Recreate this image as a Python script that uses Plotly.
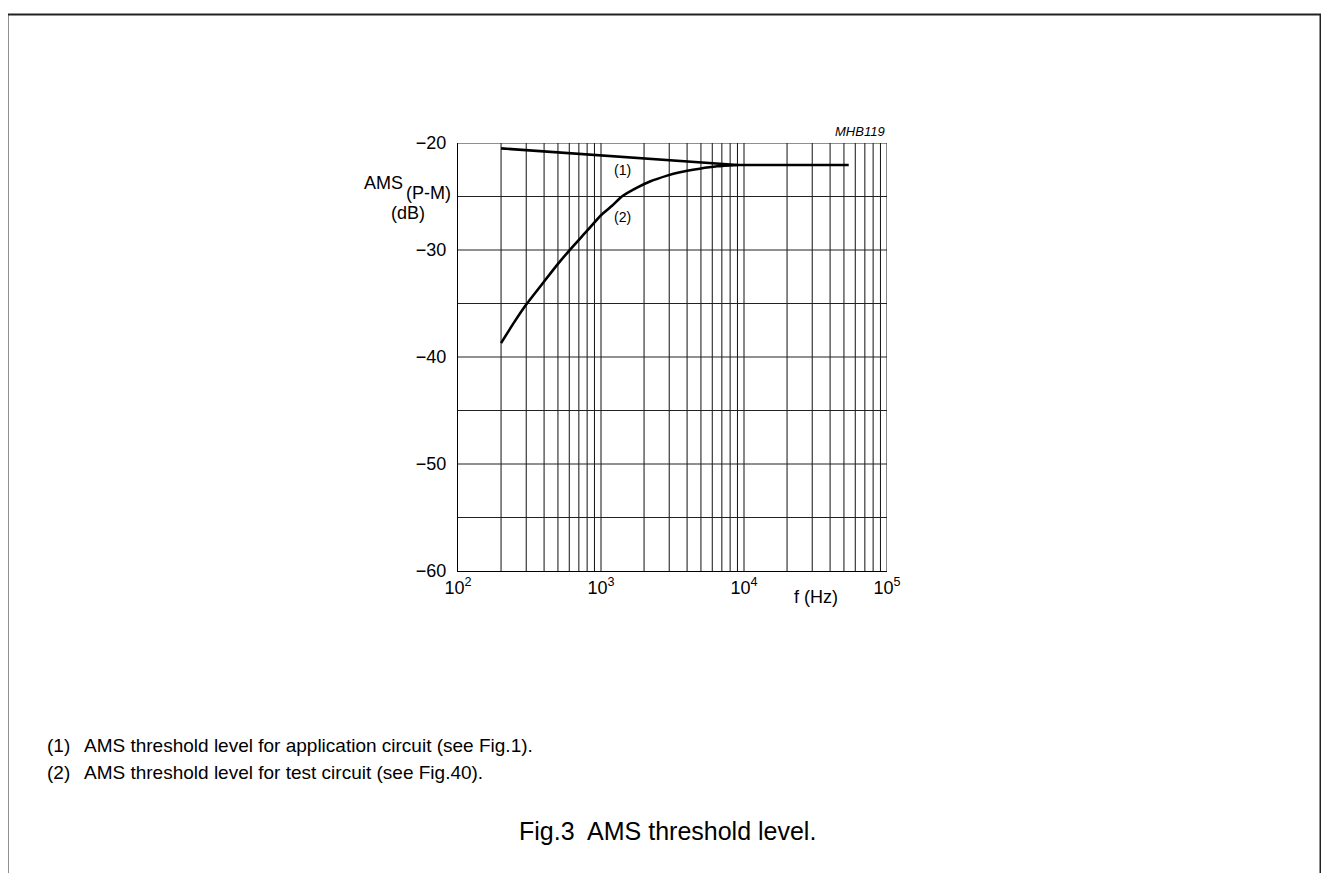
import plotly.graph_objects as go

# ---- data ----
f_app = [200, 1000, 9000, 20000, 54000]
ams_app = [-20.5, -21.15, -22.05, -22.05, -22.05]

f_test = [200, 250, 300, 400, 500, 600, 800, 1000, 1200, 1400, 1800, 2200, 2900, 3500, 4900, 6500, 9000]
ams_test = [-38.7, -36.65, -35.1, -32.95, -31.3, -30.05, -28.2, -26.75, -25.85, -25.0, -24.15, -23.6,
            -23.05, -22.75, -22.4, -22.18, -22.05]

grid_f = [200, 300, 400, 500, 600, 700, 800, 900,
          1000, 2000, 3000, 4000, 5000, 6000, 7000, 8000, 9000,
          10000, 20000, 30000, 40000, 50000, 60000, 70000, 80000, 90000, 100000]
grid_db = [-20, -25, -30, -35, -40, -45, -50, -55]

ytick_vals = [-20, -30, -40, -50, -60]
ytick_text = ["\u221220", "\u221230", "\u221240", "\u221250", "\u221260"]
xtick_vals = [100, 1000, 10000, 100000]
xtick_text = ["10<sup>2</sup>", "10<sup>3</sup>", "10<sup>4</sup>", "10<sup>5</sup>"]

FONT = "Liberation Sans, Arial, Helvetica, sans-serif"
OFF = 8                        # browser body margin
W, H = 1329 - OFF, 873 - OFF   # figure size so the page is 1329x873
L, R, T, B = 458, 887, 143, 571   # plot area in page pixels


def px(x):
    return (x - L) / (R - L)


def py(y):
    return (B - y) / (B - T)


fig = go.Figure()

# grid lines
gx, gy = [], []
for f in grid_f:
    gx += [f, f, None]
    gy += [-60, -20, None]
fig.add_trace(go.Scatter(x=gx, y=gy, mode="lines", line=dict(color="#111", width=1),
                         hoverinfo="skip", showlegend=False))
hx, hy = [], []
for d in grid_db:
    hx += [100, 100000, None]
    hy += [d, d, None]
fig.add_trace(go.Scatter(x=hx, y=hy, mode="lines", line=dict(color="#222", width=1.2),
                         hoverinfo="skip", showlegend=False))

# curves
fig.add_trace(go.Scatter(x=f_app, y=ams_app, mode="lines", name="(1)",
                         line=dict(color="black", width=2.6), showlegend=False))
fig.add_trace(go.Scatter(x=f_test, y=ams_test, mode="lines", name="(2)",
                         line=dict(color="black", width=2.6, shape="spline", smoothing=0.6),
                         showlegend=False))

fig.update_xaxes(type="log", range=[2, 5], showgrid=False, zeroline=False,
                 showline=True, linecolor="black", linewidth=1.2,
                 tickvals=xtick_vals, ticktext=xtick_text, ticks="",
                 tickfont=dict(family=FONT, size=18, color="black"))
fig.update_yaxes(range=[-60, -20], showgrid=False, zeroline=False,
                 showline=True, linecolor="black", linewidth=1.2,
                 tickvals=ytick_vals, ticktext=ytick_text, ticks="",
                 ticklabelstandoff=7,
                 tickfont=dict(family=FONT, size=18, color="black"))

ann = []


def add(text, x, y, size, xa="center", ya="middle"):
    ann.append(dict(text=text, x=px(x), y=py(y), xref="paper", yref="paper",
                    xanchor=xa, yanchor=ya, showarrow=False,
                    font=dict(family=FONT, size=size, color="black")))


add("AMS", 405, 183, 18, xa="right")
add("(P-M)", 404, 193, 18, xa="left")
add("(dB)", 408, 213, 18)
add("f (Hz)", 816, 597, 18)
add("<i>MHB119</i>", 887, 131, 13, xa="right")
add("(1)", 622, 170, 14)
add("(2)", 622, 217, 14)
add("(1)", 45, 745, 19, xa="left")
add("AMS threshold level for application circuit (see Fig.1).", 82, 745, 19, xa="left")
add("(2)", 45, 772, 19, xa="left")
add("AMS threshold level for test circuit (see Fig.40).", 82, 772, 19, xa="left")
add("Fig.3  AMS threshold level.", 667, 831, 25)

shapes = []
frame = dict(color="#222", width=2)
shapes.append(dict(type="line", xref="paper", yref="paper",
                   x0=px(7.5), x1=px(1321), y0=py(14.5), y1=py(14.5), line=frame))
shapes.append(dict(type="line", xref="paper", yref="paper",
                   x0=px(7.5), x1=px(7.5), y0=py(14.5), y1=py(880), line=frame))
shapes.append(dict(type="line", xref="paper", yref="paper",
                   x0=px(1320.5), x1=px(1320.5), y0=py(14.5), y1=py(880), line=frame))

fig.update_layout(width=W, height=H,
                  margin=dict(l=L - OFF, r=(W + OFF) - R, t=T - OFF, b=(H + OFF) - B, pad=0),
                  paper_bgcolor="white", plot_bgcolor="white",
                  annotations=ann, shapes=shapes, showlegend=False)

fig.write_html("out.html")
